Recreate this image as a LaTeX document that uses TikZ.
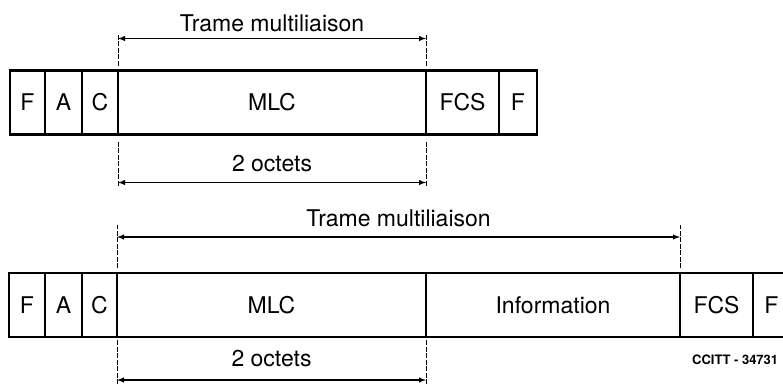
\documentclass[tikz,border=0pt]{standalone}
\usepackage{fontspec}
\setmainfont{TeX Gyre Heros}
\usetikzlibrary{shapes,arrows,positioning}

\begin{document}
\begin{tikzpicture}[x=1pt,y=-1pt]

\tikzstyle{field} = [rectangle, draw=black, line width=2.2pt, minimum height=64pt, inner sep=0pt, outer sep=0pt, text centered, font=\fontsize{23}{27}\selectfont]
\tikzstyle{tick} = [line width=0.9pt, dash pattern=on 5pt off 1.5pt]
\tikzstyle{arrow} = [line width=1.4pt,<->,>=latex]
\tikzstyle{dimtext} = [font=\fontsize{23}{27}\selectfont, inner sep=0pt]

\useasboundingbox (0,0) rectangle (783,383);

% frame 1
\node (f1) [field, minimum width=35pt] at (27.5,102.5) {F};
\node (a1) [field, minimum width=37pt, right=0pt of f1] {A};
\node (c1) [field, minimum width=36pt, right=0pt of a1] {C};
\node (mlc1) [field, minimum width=308pt, right=0pt of c1] {MLC};
\node (fcs1) [field, minimum width=73pt, right=0pt of mlc1] {FCS};
\node (fe1) [field, minimum width=38pt, right=0pt of fcs1] {F};

\draw [tick] ([yshift=5pt]mlc1.north west) -- ([yshift=37pt]mlc1.north west);
\draw [tick] ([yshift=5pt]mlc1.north east) -- ([yshift=37pt]mlc1.north east);
\coordinate (t1l) at ([yshift=32pt]mlc1.north west);
\coordinate (t1r) at ([yshift=32pt]mlc1.north east);
\draw [arrow] (t1l) -- node[dimtext, above=6pt] {Trame multiliaison} (t1r);

\draw [tick] ([yshift=-7pt]mlc1.south west) -- ([yshift=-52pt]mlc1.south west);
\draw [tick] ([yshift=-7pt]mlc1.south east) -- ([yshift=-52pt]mlc1.south east);
\coordinate (b1l) at ([yshift=-48pt]mlc1.south west);
\coordinate (b1r) at ([yshift=-48pt]mlc1.south east);
\draw [arrow] (b1l) -- node[dimtext, above=10pt] {2 octets} (b1r);

% frame 2
\node (f2) [field, minimum width=36pt] at (27,305) {F};
\node (a2) [field, minimum width=37pt, right=0pt of f2] {A};
\node (c2) [field, minimum width=35pt, right=0pt of a2] {C};
\node (mlc2) [field, minimum width=309pt, right=0pt of c2] {MLC};
\node (info2) [field, minimum width=254pt, right=0pt of mlc2] {Information};
\node (fcs2) [field, minimum width=73pt, right=0pt of info2] {FCS};
\node (fe2) [field, minimum width=37pt, right=0pt of fcs2] {F};

\draw [tick] ([yshift=5pt]mlc2.north west) -- ([yshift=48pt]mlc2.north west);
\draw [tick] ([yshift=5pt]info2.north east) -- ([yshift=48pt]info2.north east);
\coordinate (t2l) at ([yshift=36pt]mlc2.north west);
\coordinate (t2r) at ([yshift=36pt]info2.north east);
\draw [arrow] (t2l) -- node[dimtext, above=9pt] {Trame multiliaison} (t2r);

\draw [tick] ([yshift=-3pt]mlc2.south west) -- ([yshift=-50pt]mlc2.south west);
\draw [tick] ([yshift=-3pt]mlc2.south east) -- ([yshift=-50pt]mlc2.south east);
\coordinate (b2l) at ([yshift=-43pt]mlc2.south west);
\coordinate (b2r) at ([yshift=-43pt]mlc2.south east);
\draw [arrow] (b2l) -- node[dimtext, above=12pt] {2 octets} (b2r);

\node (ref) [anchor=base west, inner sep=0pt, font=\bfseries\fontsize{13}{15}\selectfont] at (692,364) {CCITT - 34731};

\end{tikzpicture}
\end{document}
